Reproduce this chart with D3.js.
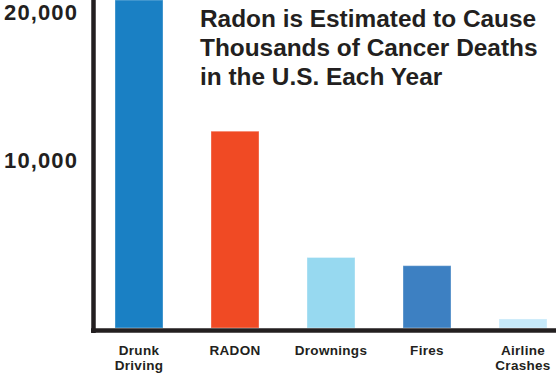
<!DOCTYPE html>
<html>
<head>
<meta charset="utf-8">
<script src="https://cdn.jsdelivr.net/npm/d3@7"></script>
<style>
  body { margin: 0; background: #fff; }
  text { font-family: "Liberation Sans", Arial, Helvetica, sans-serif; font-weight: bold; fill: #231f20; }
</style>
</head>
<body>
<script>
var svg_width  = 558;
var svg_height = 374;

// data
var categories = ["Drunk\nDriving", "RADON", "Drownings", "Fires", "Airline\nCrashes"];
var deaths     = [20000, 12000, 4300, 3800, 550];
var barColors  = ["#1a80c4", "#f04a24", "#97d9f0", "#3d80c2", "#c6e9fa"];
var yTicks     = [10000, 20000];
var titleLines = ["Radon is Estimated to Cause", "Thousands of Cancer Deaths", "in the U.S. Each Year"];

var svg = d3.select('body').append('svg')
            .attr('width', svg_width)
            .attr('height', svg_height);

var baseY = 328;

var x = d3.scaleBand()
          .domain(categories)
          .range([91, 571])
          .paddingInner(0.5)
          .paddingOuter(0.25);

var y = d3.scaleLinear()
          .domain([0, 20000])
          .range([baseY, 0]);

//bars
svg.append("g")
   .selectAll("rect")
   .data(categories)
   .enter().append("rect")
   .attr("x", d => x(d))
   .attr("width", x.bandwidth())
   .attr("y", (d, i) => y(deaths[i]))
   .attr("height", (d, i) => baseY - y(deaths[i]))
   .attr("fill", (d, i) => barColors[i])
   .attr("stroke", "#fff")
   .attr("stroke-opacity", 0.35)
   .attr("stroke-width", 1);

//axis lines (thick, drawn by hand like the original)
svg.append("line")
   .attr("x1", 93.5).attr("x2", 93.5)
   .attr("y1", 0).attr("y2", baseY + 5)
   .attr("stroke", "#231f20")
   .attr("stroke-width", 4.5);

svg.append("line")
   .attr("x1", 91).attr("x2", 556)
   .attr("y1", baseY + 2.5).attr("y2", baseY + 2.5)
   .attr("stroke", "#231f20")
   .attr("stroke-width", 4.5);

//y tick labels
svg.append("g")
   .selectAll("text")
   .data(yTicks)
   .enter().append("text")
   .attr("x", 78)
   .attr("y", d => Math.max(y(d) - 4, 12) + 8)
   .attr("text-anchor", "end")
   .style("font-size", "22px")
   .style("letter-spacing", "1.1px")
   .text(d3.format(","));

//category labels
var catLabels = svg.append("g")
   .selectAll("text")
   .data(categories)
   .enter().append("text")
   .attr("x", d => x(d) + x.bandwidth() / 2)
   .attr("y", 355)
   .attr("text-anchor", "middle")
   .style("font-size", "13.5px")
   .style("letter-spacing", "0.3px");

catLabels.selectAll("tspan")
   .data(d => d.split("\n"))
   .enter().append("tspan")
   .attr("x", function() { return this.parentNode.getAttribute("x"); })
   .attr("dy", (d, i) => i == 0 ? 0 : 15)
   .text(d => d);

//title
svg.append("text")
   .attr("x", 200)
   .attr("y", 27)
   .style("font-size", "24.4px")
   .selectAll("tspan")
   .data(titleLines)
   .enter().append("tspan")
   .attr("x", 200)
   .attr("dy", (d, i) => i == 0 ? 0 : 29)
   .text(d => d);
</script>
</body>
</html>
